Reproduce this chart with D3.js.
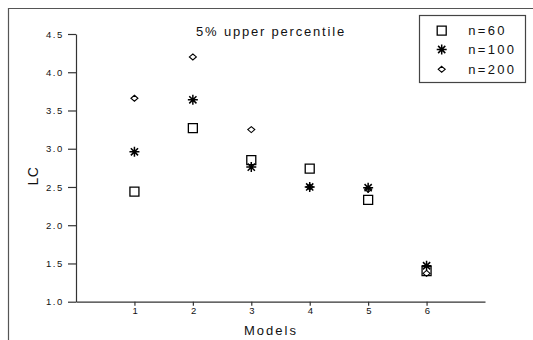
<!DOCTYPE html>
<html><head><meta charset="utf-8">
<script src="https://cdn.jsdelivr.net/npm/d3@7"></script>
<style>
html,body{margin:0;padding:0;background:#fff;}
text{font-family:"Liberation Sans",Arial,sans-serif;fill:#111;}
</style></head>
<body><svg id="c" width="533" height="340"></svg>
<script>
const models = [1,2,3,4,5,6];
const n60  = [2.44,3.27,2.85,2.74,2.33,1.40];
const n100 = [2.96,3.64,2.76,2.50,2.49,1.47];
const n200 = [3.66,4.20,3.25,2.50,2.47,1.37];
const yTicks = [1.0,1.5,2.0,2.5,3.0,3.5,4.0,4.5];
const seriesNames = ["n=60","n=100","n=200"];
const title = "5% upper percentile";

const svg = d3.select("#c");
const x = d3.scaleLinear().domain([0,7]).range([76,485]);
const y = d3.scaleLinear().domain([1,4.5]).range([301.7,34]);

// outer frame (top and left edges)
svg.append("path").attr("d","M8.5,340V8.5H533").attr("fill","none").attr("stroke","#555").attr("stroke-width",1.2);

// axes
const yAxis = d3.axisLeft(y).tickValues(yTicks).tickFormat(d3.format(".1f")).tickSize(8).tickSizeOuter(0).tickPadding(4);
const gy = svg.append("g").attr("transform","translate(76,0)").call(yAxis);
const xAxis = d3.axisBottom(x).tickValues(models).tickFormat(d3.format("d")).tickSize(4).tickSizeOuter(0).tickPadding(2);
const gx = svg.append("g").attr("transform","translate(0,301.7)").call(xAxis);
[gx,gy].forEach(g=>{
  g.select(".domain").attr("stroke","#333").attr("stroke-width",1.2);
  g.selectAll(".tick line").attr("stroke","#333").attr("stroke-width",1.2);
  g.selectAll(".tick text").attr("font-size",9.5).attr("letter-spacing","1.6px").attr("fill","#111")
   .style("font-family","'Liberation Sans',Arial,sans-serif");
});
gy.selectAll(".tick text").attr("dx","0");
gx.selectAll(".tick text").attr("dx","1");

// axis titles
svg.append("text").attr("x",271).attr("y",335).attr("text-anchor","middle")
  .attr("font-size",13).attr("letter-spacing","2px").text("Models");
svg.append("text").attr("transform","translate(38,176) rotate(-90)").attr("text-anchor","middle")
  .attr("font-size",14).attr("letter-spacing","0.5px").text("LC");
svg.append("text").attr("x",271).attr("y",36).attr("text-anchor","middle")
  .attr("font-size",13).attr("letter-spacing","1.8px").text(title);

// symbol types
const starType = {draw(ctx,size){const r=Math.sqrt(size)/2;const d=r*0.72;
  ctx.moveTo(-r,0);ctx.lineTo(r,0);ctx.moveTo(0,-r);ctx.lineTo(0,r);
  ctx.moveTo(-d,-d);ctx.lineTo(d,d);ctx.moveTo(-d,d);ctx.lineTo(d,-d);}};
const squareType = {draw(ctx,size){const r=Math.sqrt(size)/2;ctx.moveTo(-r,-r);ctx.lineTo(r,-r);ctx.lineTo(r,r);ctx.lineTo(-r,r);ctx.closePath();}};
const diamondType = {draw(ctx,size){const r=Math.sqrt(size)/2;const h=r*0.85;ctx.moveTo(0,-h);ctx.lineTo(r,0);ctx.lineTo(0,h);ctx.lineTo(-r,0);ctx.closePath();}};

const series = [
  {name:seriesNames[0], vals:n60,  sym:d3.symbol().type(squareType).size(81), sw:1.3},
  {name:seriesNames[1], vals:n100, sym:d3.symbol().type(starType).size(100), sw:1.5},
  {name:seriesNames[2], vals:n200, sym:d3.symbol().type(diamondType).size(49), sw:1.1}
];
series.forEach(s=>{
  svg.append("g").selectAll("path").data(models).join("path")
    .attr("transform",(m,i)=>`translate(${x(m)},${y(s.vals[i])})`)
    .attr("d",s.sym()).attr("fill","none").attr("stroke","#000").attr("stroke-width",s.sw);
});

// legend
const lg = svg.append("g");
lg.append("rect").attr("x",419.5).attr("y",15.5).attr("width",106).attr("height",67)
  .attr("fill","#fff").attr("stroke","#444").attr("stroke-width",1.2);
const rowsY = [30.7,49.5,69.3];
series.forEach((s,i)=>{
  lg.append("path").attr("transform",`translate(441.7,${rowsY[i]})`).attr("d",s.sym())
    .attr("fill","none").attr("stroke","#000").attr("stroke-width",s.sw);
  lg.append("text").attr("x",468.3).attr("y",rowsY[i]+4.7).attr("font-size",13)
    .attr("letter-spacing","2.3px").text(s.name);
});
</script></body></html>
